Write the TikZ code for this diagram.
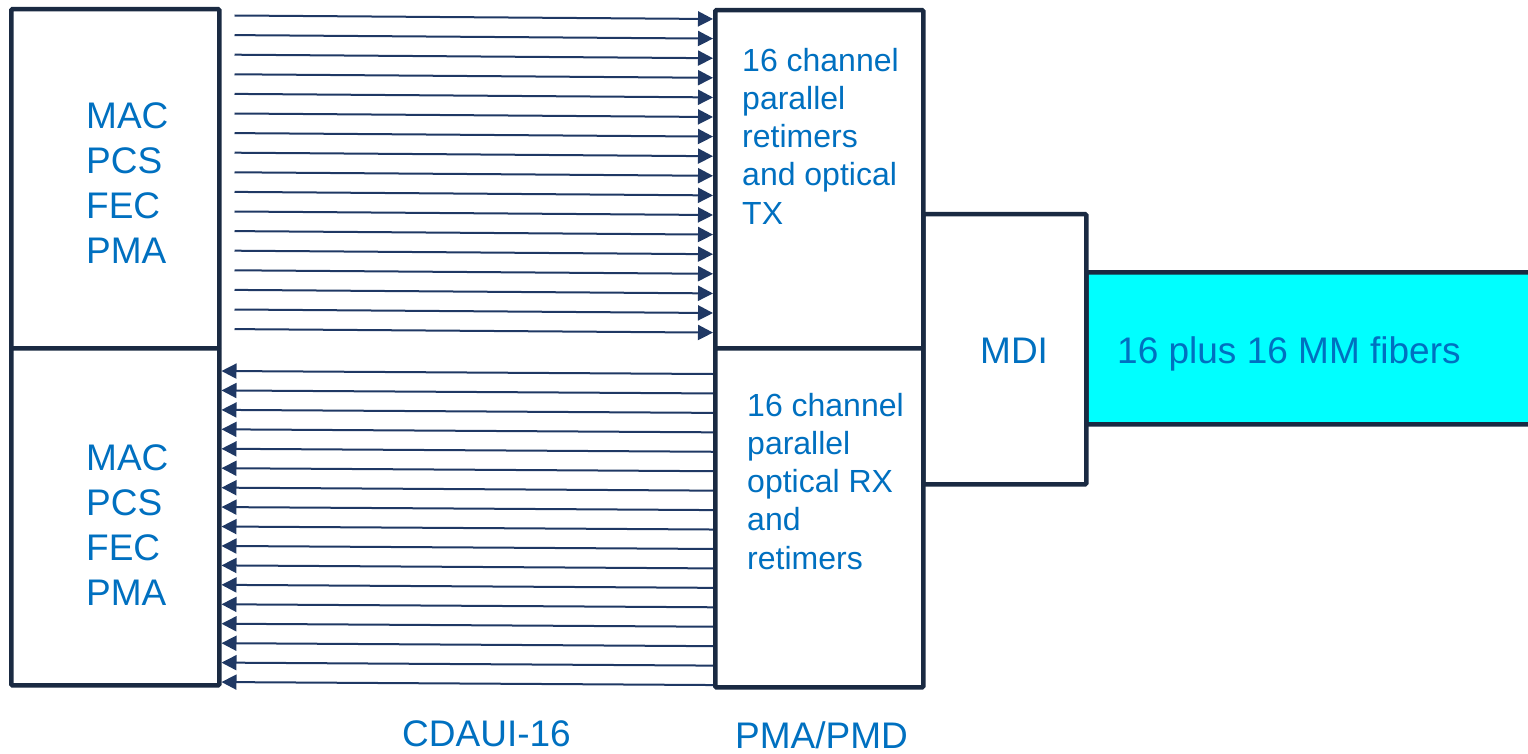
\documentclass[tikz,border=0pt]{standalone}
\usepackage{fontspec}
\setmainfont{Liberation Sans}
\usetikzlibrary{arrows.meta,calc}
\definecolor{boxline}{RGB}{26,42,66}
\definecolor{arrowc}{RGB}{31,56,100}
\definecolor{txt}{RGB}{0,112,192}
\definecolor{fibercol}{RGB}{0,255,255}
\begin{document}
\begin{tikzpicture}[x=1pt,y=-1pt,
  blk/.style={draw=boxline,line width=4.5pt,fill=white,inner sep=0pt,outer sep=2.25pt,anchor=north west,rounded corners=1pt},
  sig/.style={draw=arrowc,line width=2pt,-{Triangle[length=15pt,width=15pt]}},
  lbl/.style={text=txt,inner sep=0pt,align=left,anchor=base west},
  big/.style={font=\fontsize{37}{45}\selectfont},
  mid/.style={font=\fontsize{32}{38.2}\selectfont}]
\useasboundingbox (0,0) rectangle (1528,754);
\clip (0,0) rectangle (1528,754);
% boxes
\node[blk,fill=fibercol,minimum width=514pt,minimum height=152pt] (fiber) at (1084,270) {};
\node[blk,minimum width=163pt,minimum height=270pt] (mdi) at (921,212) {};
\node[blk,minimum width=208pt,minimum height=339pt] (macT) at (9,7) {};
\node[blk,minimum width=208pt,minimum height=337pt] (macB) at (9,346) {};
\node[blk,minimum width=208pt,minimum height=338pt] (tx) at (713,8) {};
\node[blk,minimum width=208pt,minimum height=339pt] (rx) at (713,346) {};
% connectors
\foreach \i in {0,...,16}{
  \pgfmathsetmacro\ye{19+19.6*\i}
  \pgfmathsetmacro\ys{\ye-3.5}
  \draw[sig] ($(macT.east |- 0,\ys)+(13,0)$) -- (tx.west |- 0,\ye);
}
\foreach \i in {0,...,16}{
  \pgfmathsetmacro\yt{371+19.44*\i}
  \pgfmathsetmacro\ys{\yt+3}
  \draw[sig] (rx.west |- 0,\ys) -- (macB.east |- 0,\yt);
}
% texts (base anchor = baseline of the last line)
\node[lbl,big] (tmacT) at (86,263) {MAC\\PCS\\FEC\\PMA};
\node[lbl,big] (tmacB) at (86,605) {MAC\\PCS\\FEC\\PMA};
\node[lbl,mid] (ttx) at (742,224) {16 channel\\parallel\\retimers\\and optical\\TX};
\node[lbl,mid] (trx) at (747,569) {16 channel\\parallel\\optical RX\\and\\retimers};
\node[lbl,big] (tmdi) at (980,363) {MDI};
\node[lbl,big] (tfib) at (1117,363) {16 plus 16 MM fibers};
\node[lbl,big] (tcd) at (402,746) {CDAUI-16};
\node[lbl,big] (tpm) at (735,748) {PMA/PMD};
\end{tikzpicture}
\end{document}
